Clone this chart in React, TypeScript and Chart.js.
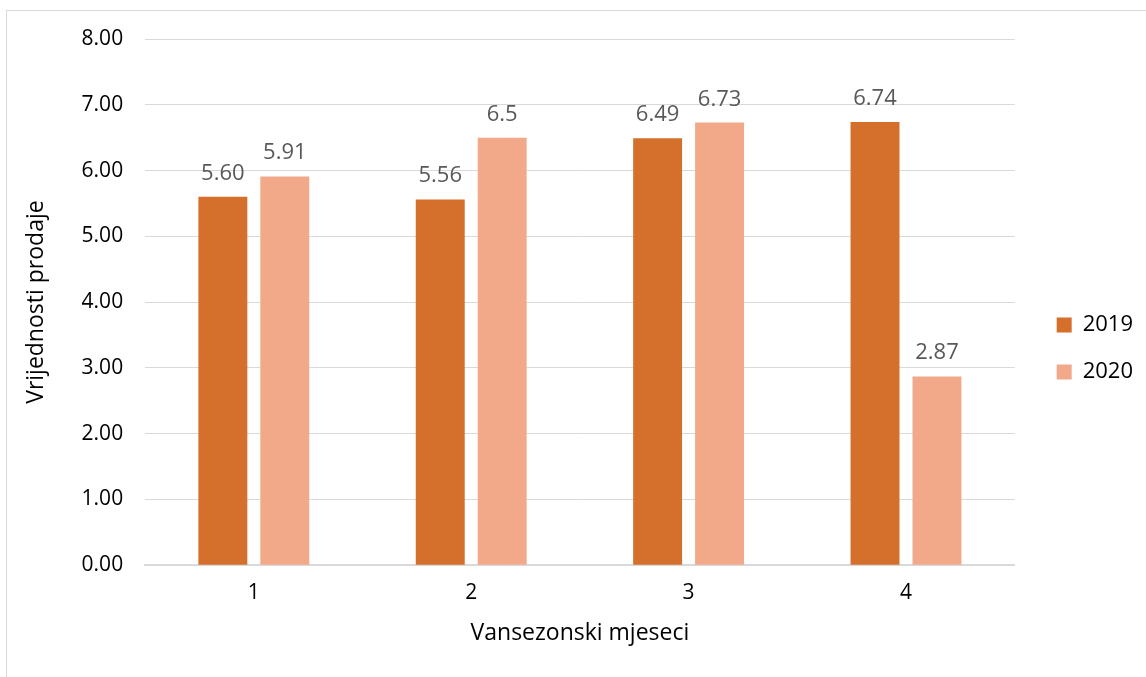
import React, { useEffect, useRef } from "react";
import { Chart, registerables } from "chart.js";

Chart.register(...registerables);

const categories = ["1", "2", "3", "4"];
const values2019 = [5.6, 5.56, 6.49, 6.74];
const values2020 = [5.91, 6.5, 6.73, 2.87];
const labels2019 = ["5.60", "5.56", "6.49", "6.74"];
const labels2020 = ["5.91", "6.5", "6.73", "2.87"];
const seriesNames = ["2019", "2020"];
const yTicksMin = 0;
const yTicksMax = 8;
const yStep = 1;

const FONT = "'Open Sans', sans-serif";

const dataLabelPlugin = {
  id: "dataLabels",
  afterDatasetsDraw(chart: any) {
    const ctx = chart.ctx;
    const texts = [labels2019, labels2020];
    ctx.save();
    ctx.font = `22px ${FONT}`;
    ctx.fillStyle = "#595959";
    ctx.textAlign = "center";
    ctx.textBaseline = "alphabetic";
    chart.data.datasets.forEach((_ds: any, di: number) => {
      const meta = chart.getDatasetMeta(di);
      meta.data.forEach((bar: any, i: number) => {
        ctx.fillText(texts[di][i], bar.x, bar.y - 17);
      });
    });
    ctx.restore();
  },
};

export default function App() {
  const ref = useRef<HTMLCanvasElement>(null);
  useEffect(() => {
    const chart = new Chart(ref.current!, {
      type: "bar",
      data: {
        labels: categories,
        datasets: [
          {
            label: seriesNames[0],
            data: values2019,
            backgroundColor: "#D46F2C",
            categoryPercentage: 0.57,
            barPercentage: 0.79,
          },
          {
            label: seriesNames[1],
            data: values2020,
            backgroundColor: "#F1A98A",
            categoryPercentage: 0.57,
            barPercentage: 0.79,
          },
        ],
      },
      options: {
        animation: false,
        responsive: false,
        maintainAspectRatio: false,
        layout: { padding: { top: 28, left: 12, right: 3, bottom: 0 } },
        plugins: {
          legend: {
            position: "right",
            labels: {
              boxWidth: 15,
              boxHeight: 15,
              padding: 25,
              color: "#000",
              font: { family: FONT, size: 22 },
            },
          },
          tooltip: { enabled: false },
        },
        scales: {
          x: {
            grid: {
              display: true,
              drawOnChartArea: false,
              drawTicks: true,
              tickLength: 15,
              tickColor: "rgba(0,0,0,0)",
              color: "rgba(0,0,0,0)",
            },
            border: { display: true, color: "#d9d9d9", width: 2 },
            ticks: { color: "#000", font: { family: FONT, size: 21 }, padding: 0 },
            title: {
              display: true,
              text: "Vansezonski mjeseci",
              color: "#000",
              font: { family: FONT, size: 23 },
              padding: { top: 14, bottom: 11 },
            },
          },
          y: {
            min: yTicksMin,
            max: yTicksMax,
            grid: {
              color: "#d9d9d9",
              lineWidth: 1,
              drawTicks: true,
              tickLength: 22,
              tickColor: "rgba(0,0,0,0)",
            },
            border: { display: false },
            ticks: {
              stepSize: yStep,
              color: "#000",
              font: { family: FONT, size: 21 },
              padding: 0,
              callback: (v: any) => Number(v).toFixed(2),
            },
            title: {
              display: true,
              text: "Vrijednosti prodaje",
              color: "#000",
              font: { family: FONT, size: 23 },
              padding: { top: 4, bottom: 31 },
            },
          },
          gap: {
            type: "linear",
            position: "right",
            display: true,
            grid: { display: false, drawTicks: false },
            border: { display: false },
            ticks: { display: false },
            afterFit: (s: any) => {
              s.width = 17;
            },
          },
        },
      },
      plugins: [dataLabelPlugin],
    });
    return () => chart.destroy();
  }, []);
  return (
    <div style={{ position: "fixed", left: 0, top: 0, width: 1146, height: 677, overflow: "hidden", background: "#fff" }}>
      <div
        style={{
          position: "absolute",
          left: 6,
          top: 10,
          width: 1160,
          height: 700,
          border: "1px solid #d9d9d9",
          boxSizing: "border-box",
        }}
      >
        <canvas ref={ref} width={1139} height={647} style={{ display: "block" }} />
      </div>
    </div>
  );
}
